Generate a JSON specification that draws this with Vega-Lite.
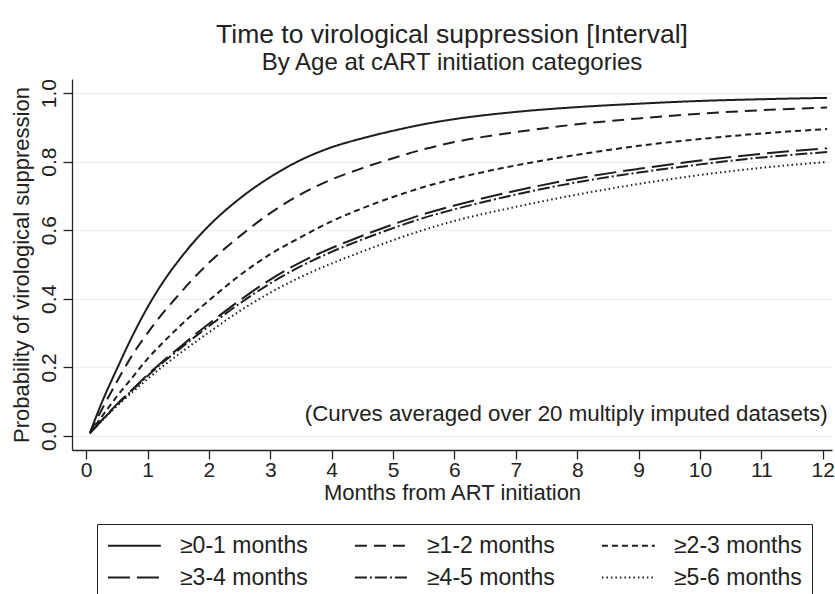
{
  "$schema": "https://vega.github.io/schema/vega-lite/v6.json",
  "width": 760,
  "height": 371,
  "padding": {"left": 10, "top": 21, "right": 2, "bottom": 0},
  "background": "white",
  "title": {
    "text": "Time to virological suppression [Interval]",
    "subtitle": "By Age at cART initiation categories",
    "fontSize": 26.5,
    "subtitleFontSize": 24,
    "subtitlePadding": 3,
    "offset": 3,
    "fontWeight": "normal",
    "font": "Liberation Sans",
    "subtitleFont": "Liberation Sans",
    "color": "#222222",
    "subtitleColor": "#222222",
    "anchor": "middle",
    "frame": "group"
  },
  "config": {
    "view": {"stroke": null},
    "font": "Liberation Sans",
    "axis": {
      "domainColor": "#222222",
      "tickColor": "#222222",
      "labelColor": "#222222",
      "titleColor": "#222222",
      "titleFontWeight": "normal",
      "labelFont": "Liberation Sans",
      "titleFont": "Liberation Sans",
      "domainWidth": 1.3,
      "tickWidth": 1.3
    }
  },
  "datasets": {
    "curves": [
      {"g": "≥0-1 months", "t": 0.06, "p": 0.008},
      {"g": "≥0-1 months", "t": 0.25, "p": 0.095},
      {"g": "≥0-1 months", "t": 0.5, "p": 0.195},
      {"g": "≥0-1 months", "t": 0.75, "p": 0.29},
      {"g": "≥0-1 months", "t": 1, "p": 0.375},
      {"g": "≥0-1 months", "t": 1.25, "p": 0.448},
      {"g": "≥0-1 months", "t": 1.5, "p": 0.51},
      {"g": "≥0-1 months", "t": 1.75, "p": 0.565},
      {"g": "≥0-1 months", "t": 2, "p": 0.613},
      {"g": "≥0-1 months", "t": 2.5, "p": 0.692},
      {"g": "≥0-1 months", "t": 3, "p": 0.755},
      {"g": "≥0-1 months", "t": 3.5, "p": 0.805},
      {"g": "≥0-1 months", "t": 4, "p": 0.842},
      {"g": "≥0-1 months", "t": 4.5, "p": 0.868},
      {"g": "≥0-1 months", "t": 5, "p": 0.89},
      {"g": "≥0-1 months", "t": 5.5, "p": 0.909},
      {"g": "≥0-1 months", "t": 6, "p": 0.924},
      {"g": "≥0-1 months", "t": 7, "p": 0.945},
      {"g": "≥0-1 months", "t": 8, "p": 0.959},
      {"g": "≥0-1 months", "t": 9, "p": 0.969},
      {"g": "≥0-1 months", "t": 10, "p": 0.977},
      {"g": "≥0-1 months", "t": 11, "p": 0.982},
      {"g": "≥0-1 months", "t": 12.07, "p": 0.986},
      {"g": "≥1-2 months", "t": 0.06, "p": 0.008},
      {"g": "≥1-2 months", "t": 0.25, "p": 0.075},
      {"g": "≥1-2 months", "t": 0.5, "p": 0.158},
      {"g": "≥1-2 months", "t": 0.75, "p": 0.235},
      {"g": "≥1-2 months", "t": 1, "p": 0.3},
      {"g": "≥1-2 months", "t": 1.25, "p": 0.358},
      {"g": "≥1-2 months", "t": 1.5, "p": 0.41},
      {"g": "≥1-2 months", "t": 1.75, "p": 0.46},
      {"g": "≥1-2 months", "t": 2, "p": 0.505},
      {"g": "≥1-2 months", "t": 2.5, "p": 0.582},
      {"g": "≥1-2 months", "t": 3, "p": 0.65},
      {"g": "≥1-2 months", "t": 3.5, "p": 0.705},
      {"g": "≥1-2 months", "t": 4, "p": 0.748},
      {"g": "≥1-2 months", "t": 4.5, "p": 0.781},
      {"g": "≥1-2 months", "t": 5, "p": 0.81},
      {"g": "≥1-2 months", "t": 5.5, "p": 0.836},
      {"g": "≥1-2 months", "t": 6, "p": 0.857},
      {"g": "≥1-2 months", "t": 7, "p": 0.886},
      {"g": "≥1-2 months", "t": 8, "p": 0.909},
      {"g": "≥1-2 months", "t": 9, "p": 0.926},
      {"g": "≥1-2 months", "t": 10, "p": 0.94},
      {"g": "≥1-2 months", "t": 11, "p": 0.95},
      {"g": "≥1-2 months", "t": 12.07, "p": 0.958},
      {"g": "≥2-3 months", "t": 0.06, "p": 0.008},
      {"g": "≥2-3 months", "t": 0.25, "p": 0.055},
      {"g": "≥2-3 months", "t": 0.5, "p": 0.115},
      {"g": "≥2-3 months", "t": 0.75, "p": 0.17},
      {"g": "≥2-3 months", "t": 1, "p": 0.225},
      {"g": "≥2-3 months", "t": 1.25, "p": 0.272},
      {"g": "≥2-3 months", "t": 1.5, "p": 0.316},
      {"g": "≥2-3 months", "t": 1.75, "p": 0.357},
      {"g": "≥2-3 months", "t": 2, "p": 0.395},
      {"g": "≥2-3 months", "t": 2.5, "p": 0.468},
      {"g": "≥2-3 months", "t": 3, "p": 0.53},
      {"g": "≥2-3 months", "t": 3.5, "p": 0.58},
      {"g": "≥2-3 months", "t": 4, "p": 0.626},
      {"g": "≥2-3 months", "t": 4.5, "p": 0.664},
      {"g": "≥2-3 months", "t": 5, "p": 0.697},
      {"g": "≥2-3 months", "t": 5.5, "p": 0.726},
      {"g": "≥2-3 months", "t": 6, "p": 0.75},
      {"g": "≥2-3 months", "t": 7, "p": 0.789},
      {"g": "≥2-3 months", "t": 8, "p": 0.82},
      {"g": "≥2-3 months", "t": 9, "p": 0.846},
      {"g": "≥2-3 months", "t": 10, "p": 0.866},
      {"g": "≥2-3 months", "t": 11, "p": 0.882},
      {"g": "≥2-3 months", "t": 12.07, "p": 0.895},
      {"g": "≥3-4 months", "t": 0.06, "p": 0.008},
      {"g": "≥3-4 months", "t": 0.25, "p": 0.045},
      {"g": "≥3-4 months", "t": 0.5, "p": 0.092},
      {"g": "≥3-4 months", "t": 0.75, "p": 0.135},
      {"g": "≥3-4 months", "t": 1, "p": 0.178},
      {"g": "≥3-4 months", "t": 1.25, "p": 0.218},
      {"g": "≥3-4 months", "t": 1.5, "p": 0.255},
      {"g": "≥3-4 months", "t": 1.75, "p": 0.292},
      {"g": "≥3-4 months", "t": 2, "p": 0.327},
      {"g": "≥3-4 months", "t": 2.5, "p": 0.395},
      {"g": "≥3-4 months", "t": 3, "p": 0.456},
      {"g": "≥3-4 months", "t": 3.5, "p": 0.507},
      {"g": "≥3-4 months", "t": 4, "p": 0.548},
      {"g": "≥3-4 months", "t": 4.5, "p": 0.584},
      {"g": "≥3-4 months", "t": 5, "p": 0.617},
      {"g": "≥3-4 months", "t": 5.5, "p": 0.647},
      {"g": "≥3-4 months", "t": 6, "p": 0.672},
      {"g": "≥3-4 months", "t": 7, "p": 0.715},
      {"g": "≥3-4 months", "t": 8, "p": 0.751},
      {"g": "≥3-4 months", "t": 9, "p": 0.779},
      {"g": "≥3-4 months", "t": 10, "p": 0.803},
      {"g": "≥3-4 months", "t": 11, "p": 0.823},
      {"g": "≥3-4 months", "t": 12.07, "p": 0.839},
      {"g": "≥4-5 months", "t": 0.06, "p": 0.008},
      {"g": "≥4-5 months", "t": 0.25, "p": 0.044},
      {"g": "≥4-5 months", "t": 0.5, "p": 0.09},
      {"g": "≥4-5 months", "t": 0.75, "p": 0.133},
      {"g": "≥4-5 months", "t": 1, "p": 0.175},
      {"g": "≥4-5 months", "t": 1.25, "p": 0.214},
      {"g": "≥4-5 months", "t": 1.5, "p": 0.25},
      {"g": "≥4-5 months", "t": 1.75, "p": 0.286},
      {"g": "≥4-5 months", "t": 2, "p": 0.32},
      {"g": "≥4-5 months", "t": 2.5, "p": 0.386},
      {"g": "≥4-5 months", "t": 3, "p": 0.445},
      {"g": "≥4-5 months", "t": 3.5, "p": 0.495},
      {"g": "≥4-5 months", "t": 4, "p": 0.537},
      {"g": "≥4-5 months", "t": 4.5, "p": 0.573},
      {"g": "≥4-5 months", "t": 5, "p": 0.606},
      {"g": "≥4-5 months", "t": 5.5, "p": 0.636},
      {"g": "≥4-5 months", "t": 6, "p": 0.661},
      {"g": "≥4-5 months", "t": 7, "p": 0.704},
      {"g": "≥4-5 months", "t": 8, "p": 0.74},
      {"g": "≥4-5 months", "t": 9, "p": 0.768},
      {"g": "≥4-5 months", "t": 10, "p": 0.792},
      {"g": "≥4-5 months", "t": 11, "p": 0.812},
      {"g": "≥4-5 months", "t": 12.07, "p": 0.828},
      {"g": "≥5-6 months", "t": 0.06, "p": 0.008},
      {"g": "≥5-6 months", "t": 0.25, "p": 0.043},
      {"g": "≥5-6 months", "t": 0.5, "p": 0.087},
      {"g": "≥5-6 months", "t": 0.75, "p": 0.127},
      {"g": "≥5-6 months", "t": 1, "p": 0.166},
      {"g": "≥5-6 months", "t": 1.25, "p": 0.203},
      {"g": "≥5-6 months", "t": 1.5, "p": 0.237},
      {"g": "≥5-6 months", "t": 1.75, "p": 0.27},
      {"g": "≥5-6 months", "t": 2, "p": 0.302},
      {"g": "≥5-6 months", "t": 2.5, "p": 0.364},
      {"g": "≥5-6 months", "t": 3, "p": 0.418},
      {"g": "≥5-6 months", "t": 3.5, "p": 0.464},
      {"g": "≥5-6 months", "t": 4, "p": 0.503},
      {"g": "≥5-6 months", "t": 4.5, "p": 0.538},
      {"g": "≥5-6 months", "t": 5, "p": 0.571},
      {"g": "≥5-6 months", "t": 5.5, "p": 0.601},
      {"g": "≥5-6 months", "t": 6, "p": 0.627},
      {"g": "≥5-6 months", "t": 7, "p": 0.668},
      {"g": "≥5-6 months", "t": 8, "p": 0.704},
      {"g": "≥5-6 months", "t": 9, "p": 0.735},
      {"g": "≥5-6 months", "t": 10, "p": 0.761},
      {"g": "≥5-6 months", "t": 11, "p": 0.782},
      {"g": "≥5-6 months", "t": 12.07, "p": 0.799}
    ],
    "note": [
      {"t": 12.08, "p": 0.064, "label": "(Curves averaged over 20 multiply imputed datasets)"}
    ]
  },
  "layer": [
    {
      "data": {"name": "curves"},
      "mark": {"type": "line", "interpolate": "monotone", "strokeWidth": 2, "color": "#1e1e1e", "strokeCap": "butt"},
      "encoding": {
        "x": {
          "field": "t",
          "type": "quantitative",
          "scale": {"domain": [-0.23, 12.15], "nice": false, "zero": false},
          "axis": {
            "values": [0, 1, 2, 3, 4, 5, 6, 7, 8, 9, 10, 11, 12],
            "format": "d",
            "grid": false,
            "tickSize": 9,
            "labelPadding": 0,
            "labelFontSize": 21,
            "title": "Months from ART initiation",
            "titleFontSize": 22,
            "titlePadding": 2
          }
        },
        "y": {
          "field": "p",
          "type": "quantitative",
          "scale": {"domain": [-0.041, 1.041], "nice": false, "zero": false},
          "axis": {
            "values": [0, 0.2, 0.4, 0.6, 0.8, 1],
            "format": ".1f",
            "grid": true,
            "gridColor": "#eeeeee",
            "gridWidth": 1.5,
            "tickSize": 9,
            "labelAngle": 270,
            "labelAlign": "center",
            "labelBaseline": "bottom",
            "labelPadding": 4,
            "labelFontSize": 21,
            "title": "Probability of virological suppression",
            "titleFontSize": 22,
            "titlePadding": 5
          }
        },
        "strokeDash": {
          "field": "g",
          "type": "nominal",
          "scale": {
            "domain": ["≥0-1 months", "≥1-2 months", "≥2-3 months", "≥3-4 months", "≥4-5 months", "≥5-6 months"],
            "range": [[1, 0], [12, 7], [6, 4], [22, 7], [12, 3, 2, 3], [1.5, 3]]
          },
          "legend": {
            "title": null,
            "orient": "none",
            "legendX": 25,
            "legendY": 445,
            "columns": 3,
            "direction": "horizontal",
            "symbolType": "M-2,0H8",
            "symbolSize": 112,
            "symbolStrokeWidth": 2,
            "symbolStrokeColor": "#1e1e1e",
            "symbolFillColor": "transparent",
            "labelFontSize": 23,
            "labelColor": "#222222",
            "labelLimit": 300,
            "labelOffset": 50,
            "columnPadding": 42,
            "rowPadding": 8,
            "padding": 10,
            "strokeColor": "#222222",
            "fillColor": "white"
          }
        }
      }
    },
    {
      "data": {"name": "note"},
      "mark": {"type": "text", "align": "right", "baseline": "middle", "fontSize": 22.3, "color": "#222222", "font": "Liberation Sans"},
      "encoding": {
        "x": {"field": "t", "type": "quantitative"},
        "y": {"field": "p", "type": "quantitative"},
        "text": {"field": "label"}
      }
    }
  ]
}
